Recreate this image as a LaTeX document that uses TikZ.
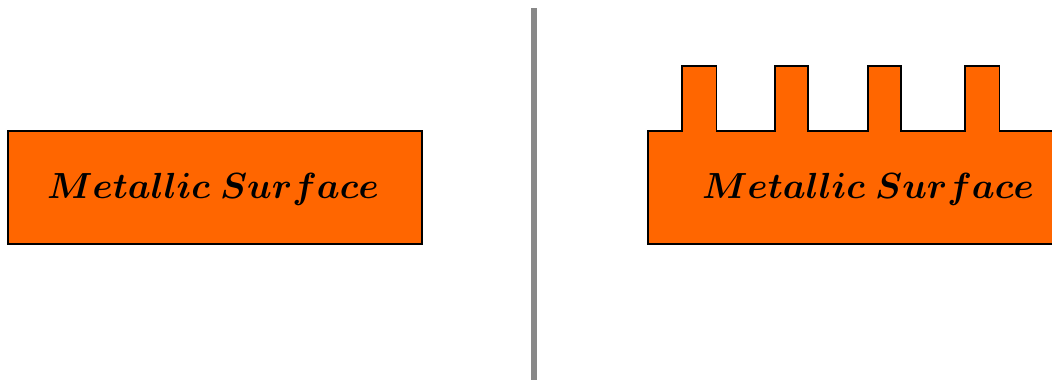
\documentclass[tikz,border=0pt]{standalone}
\usepackage{amsmath}
\usepackage{bm}
\usepackage{graphicx}
\definecolor{metal}{HTML}{FF6600}
\definecolor{divider}{HTML}{888888}
\newcommand{\surfacetext}{\scalebox{1.46}{\fontsize{37}{40}\selectfont$\bm{Metallic\;Surface}$}}
\begin{document}
\begin{tikzpicture}[x=1pt,y=-1pt,
  surface/.style={fill=metal,draw=black,line width=1.3pt,line join=miter},
  label/.style={inner sep=0pt},
]
\useasboundingbox (0,0) rectangle (1052,381);
\clip (0,0) rectangle (1052,381);
% plain surface
\draw[surface] (8,131) rectangle (422,244);
\node[label] (plain) at (213,189) {\surfacetext};
% divider
\draw[divider,line width=5.5pt] (534,8) -- (534,380);
% finned surface
\draw[surface] (648,244) -- (648,131)
  -- (682,131) -- (682,66) -- (716.5,66) -- (716.5,131)
  -- (775,131) -- (775,66) -- (808,66) -- (808,131)
  -- (868,131) -- (868,66) -- (901,66) -- (901,131)
  -- (965,131) -- (965,66) -- (999.5,66) -- (999.5,131)
  -- (1060,131) -- (1060,244) -- cycle;
\node[label] (finned) at (868,189) {\surfacetext};
\end{tikzpicture}
\end{document}
